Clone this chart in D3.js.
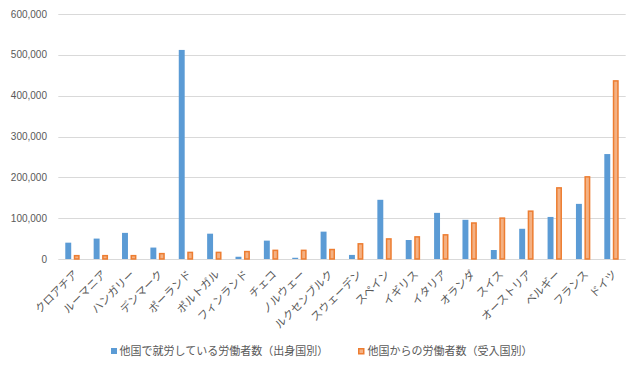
<!DOCTYPE html>
<html><head><meta charset="utf-8">
<script src="https://cdn.jsdelivr.net/npm/d3@7"></script>
<style>body{margin:0;background:#fff}</style>
</head><body>
<svg id="c" width="640" height="371"></svg>
<script>
const categories = ["クロアチア","ルーマニア","ハンガリー","デンマーク","ポーランド","ポルトガル","フィンランド","チェコ","ノルウェー","ルクセンブルク","スウェーデン","スペイン","イギリス","イタリア","オランダ","スイス","オーストリア","ベルギー","フランス","ドイツ"];
const seriesNames = ["他国で就労している労働者数（出身国別）","他国からの労働者数（受入国別）"];
const outbound = [40000,50000,64000,28000,512000,62000,5500,45000,3000,67000,10000,145000,46500,113000,96000,22000,74000,103000,135000,257000];
const inbound = [10000,10000,10000,15000,18000,18000,20000,23000,23000,25000,39000,51000,56000,61000,90000,102000,119000,176000,203000,438000];
const yTicks = [0,100000,200000,300000,400000,500000,600000];

const svg = d3.select("#c");
const m = {l:58.3, r:625.7, t:14, b:259};
const x = d3.scaleBand().domain(categories).range([m.l, m.r]).padding(0);
const x1 = d3.scaleBand().domain([0,1]).range([-7.2, 7.2]).paddingInner(0.3);
const y = d3.scaleLinear().domain([0,600000]).range([m.b, m.t]);

// gridlines
svg.append("g").selectAll("line").data(yTicks).join("line")
  .attr("x1", m.l).attr("x2", m.r)
  .attr("y1", d=>Math.round(y(d))+0.5).attr("y2", d=>Math.round(y(d))+0.5)
  .attr("stroke","#d9d9d9").attr("stroke-width",1);

// y axis labels
const fmt = d3.format(",");
svg.append("g").selectAll("text").data(yTicks).join("text")
  .attr("x", 47).attr("y", d=>y(d)).attr("dy","0.35em")
  .attr("text-anchor","end").attr("fill","#595959")
  .attr("font-family","Liberation Sans, Arial, sans-serif").attr("font-size",10)
  .text(d=>fmt(d));

// bars
const gb = svg.append("g");
gb.selectAll("rect.o").data(categories).join("rect").attr("class","o")
  .attr("x", (d)=>x(d)+x.bandwidth()/2+x1(0))
  .attr("width", x1.bandwidth())
  .attr("y", (d,i)=>y(outbound[i]))
  .attr("height", (d,i)=>m.b-y(outbound[i]))
  .attr("fill","#5b9bd5");
gb.selectAll("rect.i").data(categories).join("rect").attr("class","i")
  .attr("x", (d)=>x(d)+x.bandwidth()/2+x1(1)+0.75)
  .attr("width", x1.bandwidth()-1.5)
  .attr("y", (d,i)=>y(inbound[i])+0.75)
  .attr("height", (d,i)=>m.b-y(inbound[i])-0.75)
  .attr("fill","#f4b183").attr("stroke","#ed7d31").attr("stroke-width",1.5);

// x labels
svg.append("g").selectAll("text").data(categories).join("text")
  .attr("transform", d=>`translate(${x(d)+x.bandwidth()/2+6},${275}) rotate(-45)`)
  .attr("text-anchor","end").attr("fill","#595959")
  .attr("font-family","Noto Sans CJK JP, sans-serif").attr("font-size",11)
  .text(d=>d);

// legend
const lg = svg.append("g").attr("font-family","Noto Sans CJK JP, sans-serif").attr("font-size",11).attr("fill","#595959");
lg.append("rect").attr("x",111).attr("y",348).attr("width",6).attr("height",6).attr("fill","#5b9bd5");
lg.append("text").attr("x",119.5).attr("y",351).attr("dy","0.35em").text(seriesNames[0]);
lg.append("rect").attr("x",358.75).attr("y",348.75).attr("width",5).attr("height",5).attr("fill","#f4b183").attr("stroke","#ed7d31").attr("stroke-width",1.5);
lg.append("text").attr("x",367.5).attr("y",351).attr("dy","0.35em").text(seriesNames[1]);
</script>
</body></html>
